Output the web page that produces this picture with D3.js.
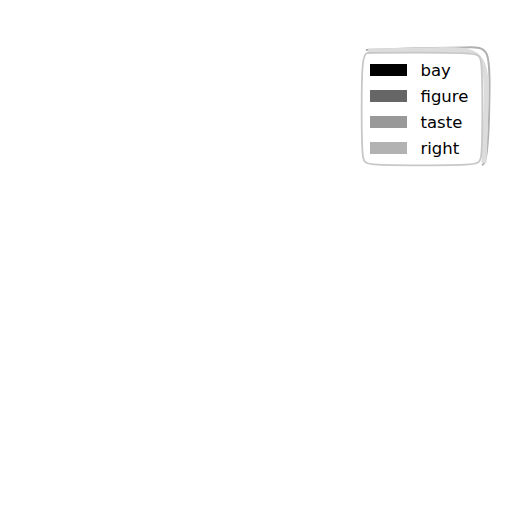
<!DOCTYPE html>
<html>
<head>
<meta charset="utf-8">
<script src="https://cdn.jsdelivr.net/npm/d3@7"></script>
<style>
  body { margin: 0; background: #fff; }
  svg { display: block; }
</style>
</head>
<body>
<svg id="chart" width="512" height="512"></svg>
<script>
// legend entries
const categories = ["bay", "figure", "taste", "right"];
const shades = ["#000000", "#666666", "#999999", "#b2b2b2"];

const svg = d3.select("#chart");

const color = d3.scaleOrdinal().domain(categories).range(shades);
const rowY = d3.scaleBand()
    .domain(categories)
    .range([57, 161])
    .paddingInner(0);

// legend frame, sketchy style
const box = {x0: 362, y0: 53, x1: 482, y1: 165};
let g = svg.append("g").attr("id", "legend");

const sketch = d3.line().curve(d3.curveBasis);

// shadow behind the frame
g.append("path")
    .attr("d", sketch([[366, 50], [420, 48], [470, 47.5], [490, 46.5],
                       [489.5, 90], [489, 130], [486, 163], [482, 165]]))
    .attr("fill", "none")
    .attr("stroke", "#b0b0b0")
    .attr("stroke-width", 2);
g.append("path")
    .attr("d", sketch([[368, 51], [440, 49.5], [486.5, 49], [486.5, 100], [484, 163]]))
    .attr("fill", "none")
    .attr("stroke", "#dcdcdc")
    .attr("stroke-width", 5);

g.append("path")
    .attr("d", sketch([[box.x0 + 5, box.y0], [420, box.y0 - 0.5], [box.x1 - 4, box.y0],
                       [box.x1, box.y0 + 4], [box.x1 + 0.5, 110], [box.x1, box.y1 - 4],
                       [box.x1 - 4, box.y1], [420, box.y1 + 0.5], [box.x0 + 4, box.y1],
                       [box.x0, box.y1 - 4], [box.x0 - 0.5, 110], [box.x0, box.y0 + 4],
                       [box.x0 + 5, box.y0]]))
    .attr("fill", "#fff")
    .attr("stroke", "#c8c8c8")
    .attr("stroke-width", 1.8);

const rows = g.selectAll("g.row")
    .data(categories)
    .join("g")
    .attr("class", "row")
    .attr("transform", d => `translate(0, ${rowY(d) + rowY.bandwidth() / 2})`);

rows.append("rect")
    .attr("x", 370)
    .attr("y", -6)
    .attr("width", 37)
    .attr("height", 12)
    .attr("fill", d => color(d));

rows.append("text")
    .attr("x", 420.5)
    .attr("y", 0)
    .attr("dy", "0.35em")
    .attr("font-family", "DejaVu Sans")
    .attr("font-size", "16.5px")
    .attr("fill", "#000")
    .text(d => d);
</script>
</body>
</html>
